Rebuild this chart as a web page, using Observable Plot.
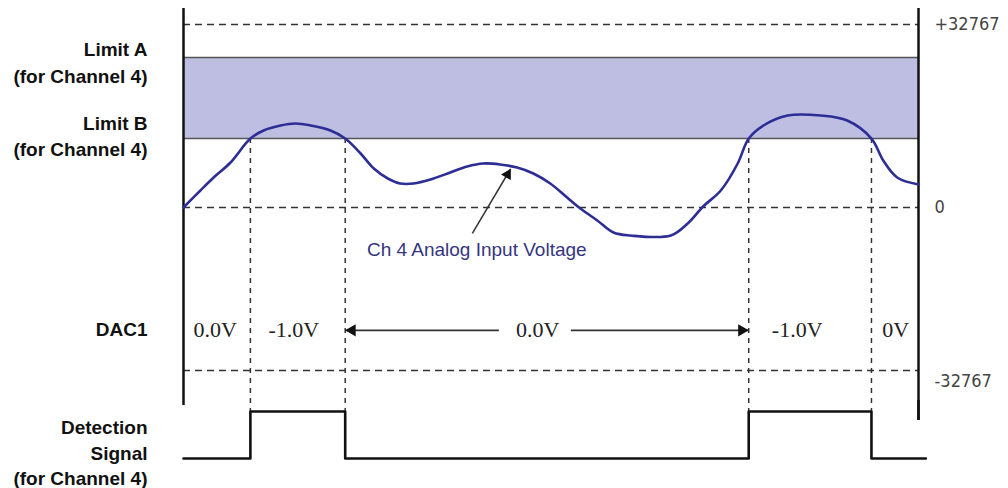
<!DOCTYPE html>
<html><head><meta charset="utf-8">
<script src="https://cdn.jsdelivr.net/npm/d3@7"></script>
<script src="https://cdn.jsdelivr.net/npm/@observablehq/plot@0.6"></script>
<style>
html,body{margin:0;padding:0;background:#fff;}
#wrap{position:relative;width:1008px;height:488px;overflow:hidden;background:#fff;}
#wrap svg{position:absolute;left:0;}
</style></head><body><div id="wrap"></div>
<script>
// ---- data ----
const timeDomain = [0, 100];
const countTicks = [32767, 0];
const countTickLabels = ["+32767", "0"];
const countMin = -32767;
const countMinLabel = "-32767";
const limitA = 26850;
const limitB = 12350;
const limitNames = ["Limit A", "Limit B"];
const channelNote = "(for Channel 4)";

const inputTime = [0, 2.3, 4.1, 6.4, 9.1, 10.9, 13.2, 15.2, 17.3, 20.0, 22.0, 24.1, 25.9, 27.8, 29.5, 31.3, 33.6, 36.3, 38.6, 40.8, 43.1, 45.4, 47.6, 49.9, 52.2, 54.0, 56.3, 58.5, 60.8, 66.3, 68.6, 70.7, 73.1, 75.4, 76.9, 78.9, 82.2, 86.7, 90.3, 93.6, 95.2, 97.1, 100];
const inputCounts = [0, 3050, 5370, 8060, 12350, 13790, 14680, 15040, 14680, 13790, 12350, 9670, 6980, 5190, 4300, 4300, 5010, 6270, 7340, 7880, 7700, 7160, 6090, 4300, 1790, -200, -2610, -5030, -5630, -5630, -3220, 180, 3040, 7880, 12350, 14680, 16470, 16470, 15580, 12350, 8420, 5370, 4120];

const crossings = [9.1, 22.0, 76.9, 93.6];
const signalTime = [0, 9.1, 22.0, 76.9, 93.6, 101];
const signalLevel = [0, 1, 0, 1, 0, 0];
const signalTitle = "Detection\nSignal\n(for Channel 4)";

const dacName = "DAC1";
const dacTime = [4.3, 15.0, 48.2, 83.5, 96.9];
const dacLabels = ["0.0V", "-1.0V", "0.0V", "-1.0V", "0V"];
const dacRow = -24700;
const dacArrowFrom = [42.9, 52.7];
const dacArrowTo = [22.0, 76.9];

const noteText = "Ch 4 Analog Input Voltage";
const noteAt = [39.9, -8450];
const notePointerFrom = [39.3, -5200];
const notePointerTo = [44.5, 6900];

// ---- chart ----
const input = inputTime.map((t, i) => ({t, v: inputCounts[i]}));
const signal = signalTime.map((t, i) => ({t, s: signalLevel[i]}));
const yOpts = {type: "linear", domain: [-32767, 0, 32767], range: [370, 207, 24], axis: null};
const yScale = Plot.scale({y: yOpts});
const pulseTopCount = yScale.invert(411);

const boldFont = {fontFamily: "Liberation Sans, Arial, sans-serif", fontWeight: "bold", fontSize: 19, fill: "#111"};
const tickFont = {fontFamily: "DejaVu Sans Condensed, Liberation Sans Narrow, sans-serif", fontSize: 18, fill: "#444"};
const serifFont = {fontFamily: "Liberation Serif, Times New Roman, serif", fontSize: 22, fill: "#222"};

const main = Plot.plot({
  width: 1008, height: 421,
  marginLeft: 183, marginRight: 90, marginTop: 8, marginBottom: 1,
  x: {domain: timeDomain, axis: null},
  y: yOpts,
  style: {background: "transparent", overflow: "visible"},
  marks: [
    Plot.rect([0], {x1: timeDomain[0], x2: timeDomain[1], y1: limitB, y2: limitA, fill: "#bebee2"}),
    Plot.ruleY([...countTicks, countMin], {y: d => d, stroke: "#333", strokeWidth: 1.5, strokeDasharray: "7,5"}),
    Plot.ruleY([limitA, limitB], {y: d => d, stroke: "#555", strokeWidth: 1.4}),
    Plot.ruleX(crossings, {x: d => d, y1: limitB, y2: pulseTopCount, stroke: "#333", strokeWidth: 1.5, strokeDasharray: "5,5"}),
    Plot.ruleX([timeDomain[0]], {x: d => d, stroke: "#111", strokeWidth: 2.5, insetBottom: 15}),
    Plot.ruleX([timeDomain[1]], {x: d => d, stroke: "#111", strokeWidth: 2.5}),
    Plot.line(input, {x: "t", y: "v", stroke: "#2d2d96", strokeWidth: 2.6, curve: "catmull-rom"}),
    // left labels
    Plot.text([limitA], {y: d => d, text: () => limitNames[0] + "\n" + channelNote, frameAnchor: "left", dx: -36, dy: 3, textAnchor: "end", lineHeight: 1.47, ...boldFont}),
    Plot.text([limitB], {y: d => d, text: () => limitNames[1] + "\n" + channelNote, frameAnchor: "left", dx: -36, dy: -4, textAnchor: "end", lineHeight: 1.37, ...boldFont}),
    Plot.text([dacRow], {y: d => d, text: () => dacName, frameAnchor: "left", dx: -36, textAnchor: "end", ...boldFont}),
    // right tick labels
    Plot.text(countTicks, {y: d => d, text: (d, i) => countTickLabels[i], frameAnchor: "right", dx: 16, textAnchor: "start", ...tickFont}),
    Plot.text([countMin], {y: d => d, text: () => countMinLabel, frameAnchor: "right", dx: 16, dy: 11, textAnchor: "start", ...tickFont}),
    // DAC row
    Plot.text(dacTime, {x: d => d, y: dacRow, text: (d, i) => dacLabels[i], ...serifFont}),
    Plot.link(dacArrowFrom, {x1: d => d, x2: (d, i) => dacArrowTo[i], y1: dacRow, y2: dacRow, stroke: "#333", strokeWidth: 1.6}),
    Plot.dot([dacArrowTo[0]], {x: d => d, y: dacRow, symbol: "triangle", r: 4.5, fill: "#111", stroke: null, rotate: -90, dx: 7}),
    Plot.dot([dacArrowTo[1]], {x: d => d, y: dacRow, symbol: "triangle", r: 4.5, fill: "#111", stroke: null, rotate: 90, dx: -7}),
    // annotation
    Plot.link([0], {x1: notePointerFrom[0], y1: notePointerFrom[1], x2: notePointerTo[0], y2: notePointerTo[1], stroke: "#333", strokeWidth: 1.5}),
    Plot.dot([0], {x: notePointerTo[0], y: notePointerTo[1], symbol: "triangle", r: 4.2, fill: "#111", stroke: null, rotate: 30, dx: -3, dy: 5.5}),
    Plot.text([noteText], {x: noteAt[0], y: noteAt[1], text: d => d, fontFamily: "Liberation Sans, Arial, sans-serif", fontSize: 19, letterSpacing: 0.5, fill: "#35357f"})
  ]
});
main.style.top = "0px";

const sig = Plot.plot({
  width: 1008, height: 88,
  marginLeft: 183, marginRight: 90, marginTop: 0, marginBottom: 0,
  x: {domain: timeDomain, axis: null},
  y: {domain: [0, 1], range: [58, 11], axis: null},
  style: {background: "transparent", overflow: "visible"},
  marks: [
    Plot.ruleX([timeDomain[1]], {x: d => d, y1: 1, y2: 0.81, stroke: "#111", strokeWidth: 2.5, insetTop: -11}),
    Plot.line(signal, {x: "t", y: "s", curve: "step-after", stroke: "#111", strokeWidth: 2.6}),
    Plot.text([signalTitle], {text: d => d, frameAnchor: "left", dx: -36, dy: 7, textAnchor: "end", lineHeight: 1.32, ...boldFont})
  ]
});
sig.style.top = "400px";

const wrap = document.getElementById("wrap");
wrap.appendChild(main);
wrap.appendChild(sig);
</script>
</body></html>
